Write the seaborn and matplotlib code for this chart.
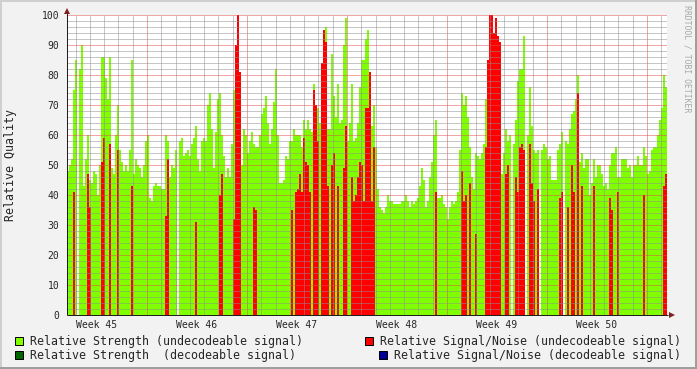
import numpy as np
import pandas as pd
import matplotlib
matplotlib.use("Agg")
import matplotlib.pyplot as plt
from matplotlib.patches import Rectangle
import seaborn as sns

# ---------------- data (one value per 2-pixel sample, ~3.4 h) ----------------
strength_undecodeable = [
    48, 50, 52, 75, 85, 0, 82, 90, 43, 52, 60, 45, 44, 48, 47, 40, 50, 86, 86, 79,
    72, 86, 49, 47, 60, 70, 55, 51, 48, 50, 48, 55, 85, 47, 52, 50, 49, 46, 50, 58,
    60, 39, 38, 43, 44, 43, 43, 42, 42, 60,
    58, 46, 50, 49, 55, 0, 58, 59, 53, 54, 55, 53, 57, 59, 63, 52, 48, 58, 59, 58,
    70, 74, 62, 49, 61, 72, 74, 60, 53, 46, 49, 46, 57, 75, 88, 96, 70, 50, 62, 60,
    54, 58, 61, 57, 56, 56, 60, 67, 69, 73,
    64, 57, 62, 71, 82, 60, 44, 44, 45, 53, 52, 58, 58, 62, 60, 60, 60, 56, 65, 62,
    65, 62, 61, 77, 68, 69, 64, 80, 92, 96, 62, 62, 87, 73, 66, 77, 64, 65, 90, 99,
    58, 64, 77, 58, 59, 64, 76, 85, 85, 92,
    95, 59, 63, 70, 56, 42, 36, 35, 34, 36, 40, 38, 38, 37, 37, 37, 37, 38, 38, 40,
    38, 36, 38, 37, 38, 39, 43, 49, 45, 36, 38, 46, 51, 60, 65, 39, 39, 40, 37, 36,
    32, 36, 38, 37, 38, 41, 55, 74, 70, 73,
    66, 56, 46, 42, 54, 53, 52, 54, 57, 72, 70, 45, 45, 45, 45, 45, 60, 47, 54, 62,
    58, 60, 0, 57, 65, 78, 82, 82, 93, 0, 60, 76, 63, 55, 54, 55, 0, 55, 57, 56,
    52, 53, 45, 45, 45, 55, 57, 61, 0, 58,
    57, 62, 67, 68, 72, 80, 51, 54, 49, 52, 52, 40, 44, 52, 46, 50, 50, 47, 43, 44,
    42, 50, 54, 54, 56, 46, 46, 52, 52, 52, 49, 50, 46, 50, 50, 53, 50, 50, 56, 53,
    47, 48, 55, 56, 56, 60, 65, 69, 80, 76,
]

snr_undecodeable = [
    0, 0, 0, 41, 0, 0, 0, 0, 0, 0, 47, 36, 0, 0, 0, 0, 0, 51, 59, 0,
    0, 57, 0, 0, 0, 55, 0, 0, 0, 0, 0, 0, 43, 0, 0, 0, 0, 0, 0, 0,
    0, 0, 0, 0, 0, 0, 0, 0, 0, 33,
    52, 0, 0, 0, 0, 0, 0, 0, 0, 0, 0, 0, 0, 0, 31, 0, 0, 0, 0, 0,
    0, 0, 0, 0, 0, 0, 40, 47, 0, 0, 0, 0, 0, 32, 90, 100, 81, 0, 0, 0,
    0, 0, 0, 36, 35, 0, 0, 0, 0, 0,
    0, 0, 0, 0, 0, 0, 0, 0, 0, 0, 0, 0, 35, 0, 41, 42, 47, 41, 59, 51,
    50, 41, 0, 75, 70, 58, 0, 84, 95, 91, 43, 0, 50, 54, 0, 43, 0, 0, 49, 63,
    0, 0, 46, 38, 40, 46, 51, 50, 38, 69,
    69, 81, 38, 56, 0, 0, 0, 0, 0, 0, 0, 0, 0, 0, 0, 0, 0, 0, 0, 0,
    0, 0, 0, 0, 0, 0, 0, 0, 0, 0, 0, 0, 0, 0, 41, 0, 0, 0, 0, 0,
    0, 0, 0, 0, 0, 0, 0, 48, 38, 40,
    0, 44, 0, 0, 27, 0, 0, 0, 0, 56, 85, 100, 100, 94, 99, 93, 91, 0, 0, 47,
    50, 0, 0, 0, 46, 41, 56, 57, 55, 0, 0, 57, 44, 38, 0, 42, 0, 0, 0, 0,
    0, 0, 0, 0, 0, 0, 39, 41, 0, 0,
    36, 0, 50, 41, 0, 74, 0, 43, 0, 0, 0, 0, 0, 43, 0, 0, 0, 0, 0, 0,
    0, 39, 35, 0, 0, 41, 0, 0, 0, 0, 0, 0, 0, 0, 0, 0, 0, 0, 40, 0,
    0, 0, 0, 0, 0, 0, 0, 0, 43, 47,
]

week_labels = ["Week 45", "Week 46", "Week 47", "Week 48", "Week 49", "Week 50"]
y_ticks = [0, 10, 20, 30, 40, 50, 60, 70, 80, 90, 100]
legend_labels = [
    "Relative Strength (undecodeable signal)",
    "Relative Strength  (decodeable signal)",
    "Relative Signal/Noise (undecodeable signal)",
    "Relative Signal/Noise (decodeable signal)",
]

first_day = 1.4    # window start, days after the start of Week 45
step_days = 0.14   # sampling step in days

# ---------------- style ----------------
sns.set_style("white")
MONO = "DejaVu Sans Mono"
plt.rcParams["font.family"] = [MONO]

C_GREEN = "#80FF00"
C_RED = "#FF0000"
C_DKGREEN = "#006600"
C_NAVY = "#000099"
C_BACK = "#F2F2F2"
C_GRID = (0.56, 0.56, 0.56, 0.22)
C_MGRID = (0.87, 0.31, 0.31, 0.40)
C_AXIS = "#1F1F1F"
C_ARROW = "#801F1F"

W, H = 697, 369
fig = plt.figure(figsize=(W / 100, H / 100), dpi=100, facecolor=C_BACK)
ax = fig.add_axes([67 / W, 54 / H, 600 / W, 300 / H])
ax.set_facecolor("white")

n = len(strength_undecodeable)
x_end = first_day + step_days * n
df = pd.DataFrame({
    "day": first_day + step_days * (np.arange(n) + 0.5),
    "strength": strength_undecodeable,
    "snr": snr_undecodeable,
})

sns.histplot(data=df, x="day", weights="strength", bins=n,
             binrange=(first_day, x_end), color=C_GREEN,
             alpha=1, linewidth=0, antialiased=False, ax=ax, zorder=1)
sns.histplot(data=df, x="day", weights="snr", bins=n,
             binrange=(first_day, x_end), color=C_RED,
             alpha=1, linewidth=0, antialiased=False, ax=ax, zorder=1.2)

ax.set_xlabel("")
ax.set_ylabel("")
ax.set_xlim(first_day, x_end)
ax.set_ylim(0, 100)

# ticks & grid
n_weeks = len(week_labels)
week_bounds = [7 * (k + 1) for k in range(n_weeks)]
days = [d for d in range(int(np.ceil(first_day)), int(x_end) + 1) if d % 7]
ax.set_xticks(week_bounds)
ax.set_xticks(days, minor=True)
ax.set_xticklabels([])
ax.set_yticks(y_ticks)
ax.set_yticks(np.arange(0, 101, 2), minor=True)
ax.set_yticklabels([str(v) for v in y_ticks], fontsize=7.0, family=MONO)

ax.set_axisbelow(False)
ax.grid(which="minor", color=C_GRID, linewidth=0.72, linestyle=(0, (1, 1)))
ax.grid(which="major", color=C_MGRID, linewidth=0.72, linestyle=(0, (1, 1)))
ax.tick_params(axis="y", which="major", length=1.6, width=0.72, color=C_AXIS,
               pad=4.0, direction="out")
ax.tick_params(axis="y", which="minor", length=0)
ax.tick_params(axis="x", which="major", length=1.6, width=0.72, color=C_MGRID,
               direction="out")
ax.tick_params(axis="x", which="minor", length=1.2, width=0.72, color=C_GRID,
               direction="out")
for s in ax.spines.values():
    s.set_visible(False)

# axis lines with arrows
ax.plot([0, 0], [0, 1 + 2 / 300], transform=ax.transAxes, color=C_AXIS,
        lw=0.72, clip_on=False, zorder=5, solid_capstyle="butt")
ax.plot([0, 1 + 1 / 600], [0, 0], transform=ax.transAxes, color=C_AXIS,
        lw=0.72, clip_on=False, zorder=5, solid_capstyle="butt")
ax.plot([0], [1 + 4.5 / 300], marker="^", ms=3.8, color=C_ARROW,
        transform=ax.transAxes, clip_on=False, zorder=6, mew=0)
ax.plot([1 + 4.5 / 600], [0], marker=">", ms=3.8, color=C_ARROW,
        transform=ax.transAxes, clip_on=False, zorder=6, mew=0)

# week labels centred in each week
for k, lab in enumerate(week_labels):
    ax.text(7 * k + 3.5, -13 / 300, lab, transform=ax.get_xaxis_transform(),
            ha="center", va="baseline", fontsize=7.0, family=MONO)

# y label and watermark
fig.text(11 / W, 1 - 165 / H, "Relative Quality", rotation=90, ha="center",
         va="center", fontsize=8.4, family=MONO)
fig.text(687.5 / W, 1 - 5 / H, "RRDTOOL / TOBI OETIKER", rotation=270,
         ha="center", va="top", fontsize=5.9, family=MONO, color="#A8A8A8")

# legend drawn in pixel positions
def px_rect(x0, y0, w, h, fc, ec="none", lw=0):
    fig.add_artist(Rectangle((x0 / W, 1 - (y0 + h) / H), w / W, h / H,
                             transform=fig.transFigure, facecolor=fc,
                             edgecolor=ec, linewidth=lw))

legend_items = [
    (15, 337, 30, 345, C_GREEN, legend_labels[0]),
    (15, 351, 30, 359, C_DKGREEN, legend_labels[1]),
    (365, 337, 380, 345, C_RED, legend_labels[2]),
    (379, 351, 394, 359, C_NAVY, legend_labels[3]),
]
for bx, by, tx, ty, col, lab in legend_items:
    px_rect(bx, by, 8, 8, col, ec="black", lw=0.72)
    fig.text(tx / W, 1 - ty / H, lab, ha="left", va="baseline", fontsize=8.4,
             family=MONO)

# 3D-style border
px_rect(0, 0, W, 2, "#CFCFCF")
px_rect(0, 0, 2, H, "#CFCFCF")
px_rect(0, H - 2, W, 2, "#9E9E9E")
px_rect(W - 2, 0, 2, H, "#9E9E9E")

fig.savefig("out.png", dpi=100, facecolor=C_BACK)
